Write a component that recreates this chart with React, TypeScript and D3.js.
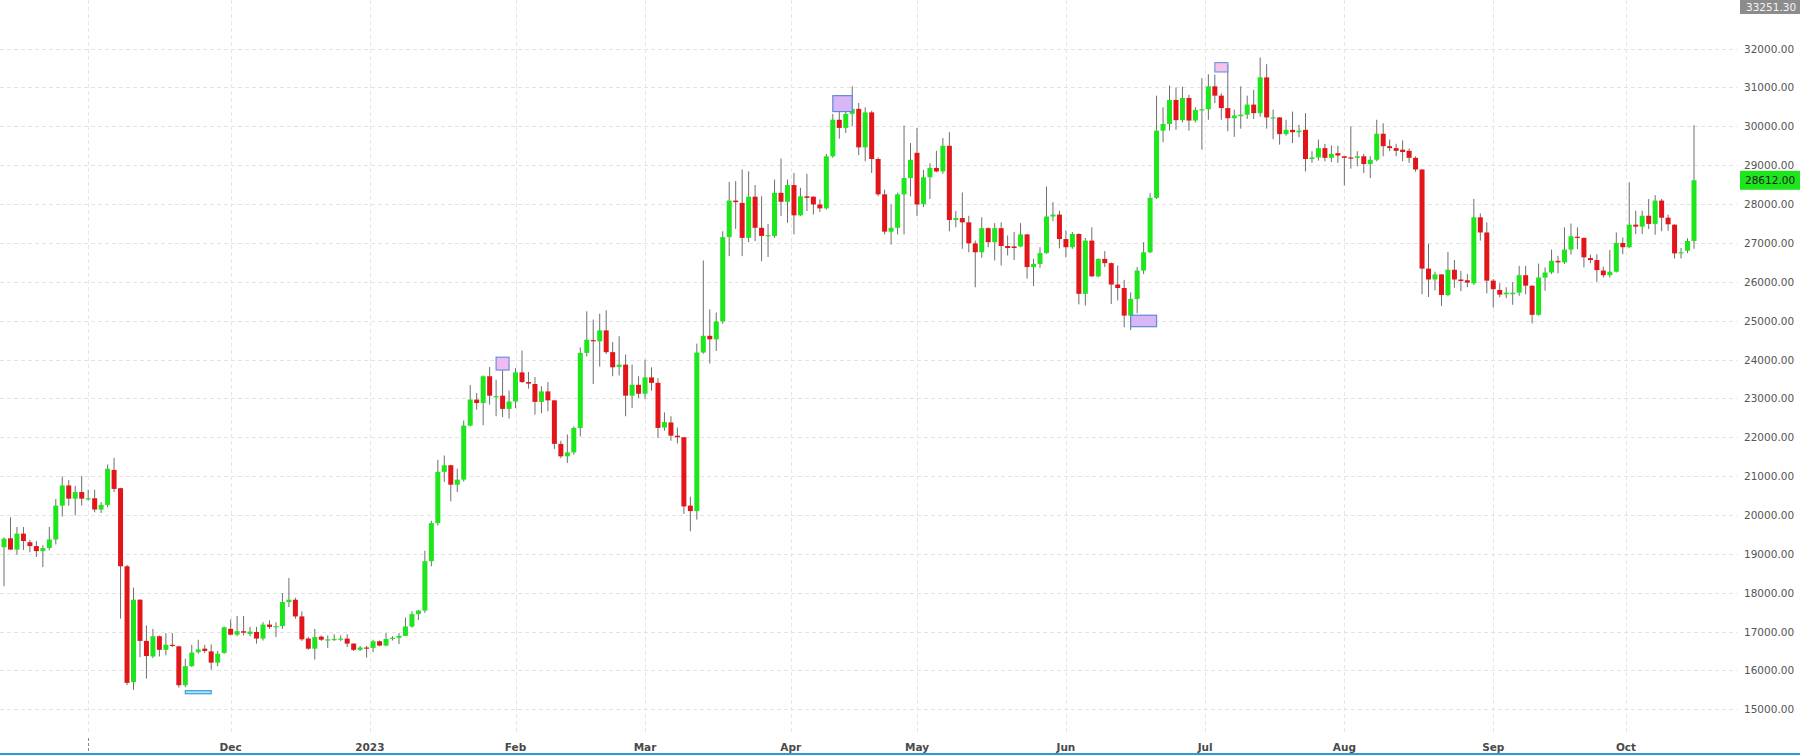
import React from 'react';
import * as d3 from 'd3';

// ---- data (daily bars, weekdays; weekends folded into Monday) ----
const FIRST_DAY = '2022-10-12';
const LAST_DAY = '2023-10-16';
const MISSING_DAYS = ['2023-04-28'];

const opens = [
  // Oct 2022
  19020,19170,19400,19110,19520,19300,19200,19070,19150,19370,20240,20760,20420,20590,
  // Nov
  20400,20430,20140,20260,21160,20690,18680,15700,17820,16760,16360,16880,16530,16660,16620,15620,16110,16470,16560,16490,16200,16450,
  // Dec
  17070,16920,17010,16940,16990,16820,17180,17120,17140,17760,17820,17390,16820,16560,16870,16770,16780,16790,16820,16690,16530,16590,
  // Jan 2023
  16580,16750,16640,16810,16840,16890,17130,17450,17540,18810,19790,21110,21280,20780,20910,22300,22970,22880,23570,23030,23070,22730,
  // Feb
  22920,23670,23420,23370,22910,23180,22950,21830,21510,21610,22240,24170,24500,24470,24750,24190,23810,23870,23070,23350,
  // Mar
  23120,23540,23400,22250,22380,22040,22000,20240,20100,24180,24610,24520,24980,27150,28090,28030,27130,28190,27390,27170,27180,28290,28060,
  // Apr
  28490,27710,28200,28190,27990,27890,29230,30170,29960,30320,30450,29460,30360,29160,28250,27290,27390,28250,28670,
  // May
  29320,28000,28690,28930,28840,29500,27590,27640,27530,26990,26760,27380,27020,27380,26920,26910,26910,27220,26380,26460,26740,27680,27730,
  // Jun
  27100,26890,27230,25690,27060,26140,26590,26480,25930,25840,25130,25560,26290,26760,28160,29890,30060,30680,30160,30730,30150,30410,
  // Jul
  30440,31030,30790,30470,30210,30260,30300,30560,30340,31260,30200,30230,29800,29910,29850,29910,29160,29200,29440,29190,29310,
  // Aug
  29230,29200,29190,29230,29030,29140,29810,29490,29440,29400,29370,29190,28890,26340,26060,26190,25660,26310,26060,26040,25960,27660,27270,
  // Sep
  26030,25790,25680,25680,25720,26170,25900,25150,26110,26240,26540,26500,26830,27160,27130,26610,26560,26290,26170,26260,27000,
  // Oct
  26890,27470,27420,27700,27490,28090,27650,27470,26730,26800,27050,
];

const highs = [
  19250,19420,19940,19690,19690,19360,19330,19220,19690,20410,20990,20900,20750,21000,
  20650,20650,20330,21300,21470,20700,18720,18130,17830,17160,17070,16900,16960,16960,16640,16300,16660,16790,16660,16670,16500,17130,
  17310,17400,17400,17120,17120,17240,17290,17240,17990,18380,17870,17520,16860,17070,16900,16900,16930,16900,16930,16700,16630,16630,
  16790,16770,16960,16880,16960,17360,17520,17560,19080,19850,21420,21530,21290,21190,22430,23340,23140,23590,23810,23480,23950,23200,
  23780,24230,23680,23550,23310,23420,22960,21910,22070,22280,24310,25240,25030,25180,25270,24450,24600,24130,23870,23570,
  24000,23800,23520,22640,22540,22250,22010,20470,24410,26550,25290,25210,27300,28570,28590,28890,28840,28490,28200,27490,28630,29170,28630,
  28800,28420,28780,28200,28120,29290,30320,30510,30600,31030,30600,30490,30400,29200,28370,27990,28290,30020,29570,
  29960,28880,29050,29370,29700,29850,27820,28300,27700,27060,27660,27400,27510,27530,27190,27280,27510,27230,26590,26890,28450,28050,27830,
  27320,27280,27250,27130,27400,26600,26790,26500,26420,26050,25730,26380,27020,28280,30790,30490,31050,31000,31020,30810,30490,31240,
  31340,31330,30850,31600,30430,31030,30790,30940,31770,31600,30430,30240,30170,30380,30040,30340,29360,29660,29550,29510,29500,
  29240,30000,29360,29290,29230,30170,30080,29660,29550,29640,29430,29230,28900,26980,26260,26200,26770,26560,26280,26200,28130,27760,27530,
  26070,25960,25860,25990,26410,26410,25910,26470,26370,26830,26670,27400,27500,27400,27140,26700,26710,26390,26820,27270,27140,
  28560,27830,27830,28130,28230,28130,27730,27480,26870,27120,30030,
];

const lows = [
  18980,18170,19100,18980,19100,19040,18920,18660,19090,19240,19960,20240,19990,20240,
  20370,20070,20050,20200,20590,17330,15620,15500,16340,15790,16320,16360,16390,16600,15560,15570,16090,16430,16450,16020,16110,16430,
  16900,16880,16900,16880,16690,16770,17070,16860,17070,17630,17330,16760,16530,16280,16760,16580,16760,16760,16600,16500,16500,16330,
  16470,16620,16620,16770,16680,16880,17100,17300,17480,18680,19730,20850,20350,20590,20860,22280,22710,22310,22840,22540,22520,22480,
  22750,23400,23250,22580,22620,22670,21700,21460,21340,21550,22020,24080,23370,23820,24140,23570,23590,22540,22750,23010,
  22990,23200,21980,22170,21910,21840,20030,19580,19880,24150,23900,24220,24920,26660,27360,26660,27020,27050,26530,26640,27130,27690,27520,
  27220,27690,27820,27730,27800,27860,29190,29680,29830,30000,29260,29100,28800,28200,27220,26960,27220,27220,28200,
  27690,27920,28130,28820,28780,27300,27400,26850,26760,25860,26620,26890,26550,26420,26680,26560,26890,26080,25890,26360,26720,27560,26860,
  26630,26850,25420,25390,26130,26120,26380,25430,25520,24830,24760,25190,26200,26740,28130,29590,29890,29910,30100,29890,30100,29400,
  30170,30600,30170,29870,29730,29940,30190,30190,30250,29940,29670,29530,29760,29570,29720,28840,29060,29120,29100,29080,29060,
  28480,28910,28970,28800,28670,29100,29230,29360,29230,29100,29060,28830,25680,25610,25780,25380,25630,25850,25760,25860,25920,27060,25700,
  25340,25600,25580,25410,25640,25680,24930,25130,25770,26200,26220,26460,26700,26840,26370,26480,26000,26110,26110,26240,26710,
  26870,27230,27230,27360,27210,27300,27310,26600,26600,26740,26850,
];

const closes = [
  19170,19390,19110,19520,19330,19200,19070,19150,19370,20240,20760,20420,20590,20420,
  20430,20140,20260,21190,20670,18680,15680,17820,16760,16370,16880,16530,16660,16630,15620,16110,16460,16540,16500,16200,16430,17110,
  16920,17010,16970,17000,16820,17180,17120,17140,17760,17820,17390,16800,16560,16860,16790,16800,16810,16820,16690,16530,16590,16560,
  16750,16640,16810,16840,16890,17130,17450,17540,18810,19790,21110,21280,20780,20910,22300,22970,22880,23570,23070,23060,22730,22920,
  23670,23420,23380,22910,23180,22950,21830,21510,21610,22240,24170,24510,24470,24750,24190,23800,23870,23070,23350,23120,
  23540,23400,22240,22390,22040,22000,20220,20100,24180,24610,24520,24980,27150,28090,28050,27130,28190,27390,27180,27200,28290,28060,28490,
  27710,28200,28160,27990,27890,29230,30170,29960,30320,30450,29460,30360,29160,28250,27290,27390,28250,28670,29140,
  27990,28690,28930,28840,29500,27590,27640,27530,26990,26760,27380,27020,27380,26920,26870,26870,27220,26380,26460,26740,27680,27730,27100,
  26890,27230,25690,27060,26140,26590,26480,25930,25840,25130,25560,26290,26760,28160,29890,30060,30680,30160,30730,30150,30420,30440,
  31030,30790,30470,30210,30280,30300,30560,30340,31260,30230,30230,29800,29910,29850,29890,29160,29200,29440,29190,29290,29250,
  29190,29190,29230,29030,29140,29810,29490,29440,29370,29340,29190,28890,26340,26060,26190,25660,26310,26060,26020,25980,27660,27270,26030,
  25810,25670,25720,25720,26170,25900,25150,26110,26240,26540,26500,26830,27170,27130,26630,26560,26300,26170,26260,27000,26890,
  27470,27420,27700,27490,28090,27650,27480,26730,26760,27050,28612,
];

const yTicks = [15000,16000,17000,18000,19000,20000,21000,22000,23000,24000,25000,26000,27000,28000,29000,30000,31000,32000];
const axisTop = 33251.30;
const axisBottom = 15000;
const lastPrice = 28612.00;

const monthKeys = ['2022-11','2022-12','2023-01','2023-02','2023-03','2023-04','2023-05','2023-06','2023-07','2023-08','2023-09','2023-10'];
const monthTexts = ['','Dec','2023','Feb','Mar','Apr','May','Jun','Jul','Aug','Sep','Oct'];

// pattern boxes: span between two bars at a price band
const boxFrom = ['2022-11-22','2023-01-27','2023-04-11','2023-06-15','2023-07-04'];
const boxTo   = ['2022-11-28','2023-01-31','2023-04-14','2023-06-21','2023-07-06'];
const boxLow  = [15400, 23730, 30380, 24845, 31400];
const boxHigh = [15480, 24060, 30790, 25140, 31640];
const boxFill = ['#b3def5','#eebcf2','#d9b6f5','#d9b6f5','#f6c2ec'];
const boxStroke = ['#3a9fe0','#6d90dc','#5d8bd8','#5d8bd8','#6d9ae0'];

// ---- helpers ----
function tradingDays(first: string, last: string, missing: string[]): string[] {
  const out: string[] = [];
  const d = new Date(first + 'T12:00:00Z');
  const end = new Date(last + 'T12:00:00Z');
  while (d <= end) {
    const wd = d.getUTCDay();
    const s = d.toISOString().slice(0, 10);
    if (wd !== 0 && wd !== 6 && !missing.includes(s)) out.push(s);
    d.setUTCDate(d.getUTCDate() + 1);
  }
  return out;
}

const W = 1800;
const H = 755;
const PLOT_RIGHT = 1737;
const GRID_BOTTOM = 735;
const FONT = '"DejaVu Sans", Verdana, sans-serif';

export default function App() {
  const days = tradingDays(FIRST_DAY, LAST_DAY, MISSING_DAYS);
  // index -1 is the partially hidden first bar
  const x = d3.scaleLinear().domain([0, days.length - 2]).range([4, 1694]);
  const xi = (k: number) => x(k - 1);
  const y = d3.scaleLinear().domain([axisBottom, axisTop]).range([709.3, 0]);
  const idx = (s: string) => days.indexOf(s);

  const months = monthKeys.map((m, j) => {
    const k = days.findIndex((d) => d.startsWith(m));
    const onFirst = days[k].endsWith('-01');
    return { x: onFirst ? xi(k) : xi(k - 0.5), label: monthTexts[j] };
  });

  const bodyW = 5;

  return (
    <div style={{ position: 'absolute', left: 0, top: 0, width: W, height: H, background: '#fff' }}>
      <svg width={W} height={H} style={{ display: 'block' }}>
        <rect x={0} y={0} width={W} height={H} fill="#fff" />
        {/* horizontal grid */}
        {yTicks.map((t) => (
          <line key={'h' + t} x1={0} x2={PLOT_RIGHT} y1={Math.round(y(t)) + 0.5} y2={Math.round(y(t)) + 0.5}
            stroke="#e3e3e3" strokeDasharray="4 3" />
        ))}
        {/* vertical grid */}
        {months.map((m, j) => (
          <line key={'v' + j} x1={Math.round(m.x) + 0.5} x2={Math.round(m.x) + 0.5} y1={0} y2={GRID_BOTTOM}
            stroke="#e6e6e6" strokeDasharray="4 3" />
        ))}
        {/* session marker at first month */}
        <line x1={Math.round(months[0].x) + 0.5} x2={Math.round(months[0].x) + 0.5} y1={738} y2={754}
          stroke="#8a8a8a" strokeDasharray="3 2" />
        {/* candles */}
        {days.map((d, k) => {
          const o = opens[k], h = highs[k], l = lows[k], c = closes[k];
          const cx = xi(k);
          const up = c >= o;
          const top = y(Math.max(o, c));
          const bh = Math.max(1.2, Math.abs(y(o) - y(c)));
          return (
            <g key={d}>
              <line x1={cx} x2={cx} y1={y(h)} y2={y(l)} stroke="#6e6e6e" strokeWidth={1} />
              <rect x={cx - bodyW / 2} y={top} width={bodyW} height={bh}
                fill={up ? '#1de61d' : '#e2161a'} />
            </g>
          );
        })}
        {/* pattern boxes */}
        {boxFrom.map((f, j) => {
          const x1 = xi(idx(f));
          const x2 = xi(idx(boxTo[j]));
          return (
            <rect key={'b' + j} x={x1} y={y(boxHigh[j])} width={x2 - x1} height={y(boxLow[j]) - y(boxHigh[j])}
              fill={boxFill[j]} stroke={boxStroke[j]} strokeWidth={1.2} />
          );
        })}
        {/* y labels */}
        {yTicks.map((t) => (
          <text key={'t' + t} x={1744} y={y(t)} dominantBaseline="central" fontFamily={FONT}
            fontSize={10.5} fill="#555">{d3.format('.2f')(t)}</text>
        ))}
        {/* top value box */}
        <rect x={1740} y={0} width={60} height={14} fill="#8c8c8c" />
        <text x={1746} y={7} dominantBaseline="central" fontFamily={FONT} fontSize={10.5} fill="#f4f4f4">
          {d3.format('.2f')(axisTop)}
        </text>
        {/* last price box */}
        <rect x={1740} y={y(lastPrice) - 9.5} width={60} height={19} fill="#1de61d" />
        <text x={1745} y={y(lastPrice)} dominantBaseline="central" fontFamily={FONT} fontSize={10.5} fill="#1a1a1a">
          {d3.format('.2f')(lastPrice)}
        </text>
        {/* x labels */}
        {months.map((m, j) => m.label ? (
          <text key={'x' + j} x={m.x} y={751} textAnchor="middle" fontFamily={FONT} fontSize={10.5}
            fontWeight="bold" fill="#4a4a4a">{m.label}</text>
        ) : null)}
        {/* bottom axis line */}
        <line x1={0} x2={W} y1={754} y2={754} stroke="#2e9ad6" strokeWidth={2} />
      </svg>
    </div>
  );
}
